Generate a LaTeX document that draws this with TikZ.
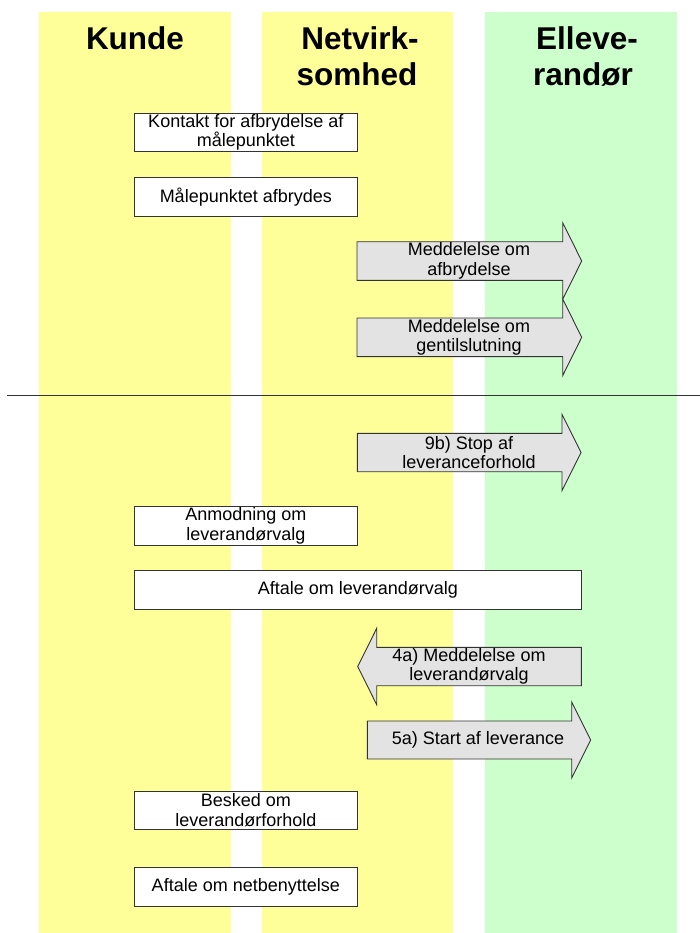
\documentclass[tikz,border=0pt]{standalone}
\usepackage{fontspec}
\setmainfont{Liberation Sans}
\definecolor{laneyellow}{HTML}{FFFF99}
\definecolor{lanegreen}{HTML}{CCFFCC}
\definecolor{arrowgray}{HTML}{E3E3E3}
\definecolor{edgegray}{HTML}{333333}
\tikzset{
  header/.style={font=\fontsize{31.5}{36}\selectfont\bfseries, align=center, text=black},
  stepbox/.style={draw=edgegray, line width=0.9pt, fill=white, inner sep=0pt,
    font=\fontsize{18}{19.5}\selectfont, align=center, text=black},
  msgarrow/.style={draw=edgegray, line width=0.9pt, fill=arrowgray},
  msgtext/.style={font=\fontsize{18}{19.5}\selectfont, align=center, text=black},
}
\begin{document}
\begin{tikzpicture}[x=1pt,y=-1pt]
\useasboundingbox (0,0) rectangle (700,933);
% lanes
\fill[laneyellow] (39,12) rectangle (231,933);
\fill[laneyellow] (262,12) rectangle (453,933);
\fill[lanegreen] (485,12) rectangle (677,933);
% headers
\node[header, anchor=base] (hk) at (135,50) {Kunde};
\node[header, anchor=base] (hn1) at (360,50) {Netvirk-};
\node[header, anchor=base] (hn2) at (357,86) {somhed};
\node[header, anchor=base] (he1) at (587,50) {Elleve-};
\node[header, anchor=base] (he2) at (583,86) {randør};
% boxes
\node[stepbox, minimum width=223.5pt, minimum height=38.5pt] (b1) at (245.8,132.5) {Kontakt for afbrydelse af\\målepunktet};
\node[stepbox, minimum width=223.5pt, minimum height=38.5pt] (b2) at (245.8,197) {Målepunktet afbrydes};
% arrows to supplier
\draw[msgarrow] (357,241.7) -- (562.7,241.7) -- (562.7,222.7) -- (581.7,261) -- (562.7,299.3) -- (562.7,280.3) -- (357,280.3) -- cycle;
\node[msgtext] (a1) at (469,261) {Meddelelse om\\afbrydelse};
\draw[msgarrow] (357,318) -- (562.7,318) -- (562.7,299) -- (581.7,337.3) -- (562.7,375.6) -- (562.7,356.6) -- (357,356.6) -- cycle;
\node[msgtext] (a2) at (469,337.3) {Meddelelse om\\gentilslutning};
% separator
\coordinate (sepL) at (7,395);
\coordinate (sepR) at (700,395);
\draw[edgegray, line width=1pt] (sepL) -- (sepR);
% lower part
\draw[msgarrow] (357.3,433.3) -- (562,433.3) -- (562,414.3) -- (581,452.5) -- (562,490.7) -- (562,471.7) -- (357.3,471.7) -- cycle;
\node[msgtext] (a3) at (469,452.5) {9b) Stop af\\leveranceforhold};
\node[stepbox, minimum width=223.5pt, minimum height=38.5pt] (b3) at (245.8,525.8) {Anmodning om\\leverandørvalg};
\node[stepbox, minimum width=447.5pt, minimum height=38.5pt] (b4) at (357.8,590) {Aftale om leverandørvalg};
\draw[msgarrow] (581.3,647.3) -- (376.7,647.3) -- (376.7,628.3) -- (357.7,666.5) -- (376.7,704.7) -- (376.7,685.7) -- (581.3,685.7) -- cycle;
\node[msgtext] (a4) at (469,666.5) {4a) Meddelelse om\\leverandørvalg};
\draw[msgarrow] (367.3,721) -- (571.7,721) -- (571.7,702) -- (590.7,740) -- (571.7,778) -- (571.7,759) -- (367.3,759) -- cycle;
\node[msgtext] (a5) at (478,740) {5a) Start af leverance};
\node[stepbox, minimum width=223.5pt, minimum height=38.5pt] (b5) at (245.8,810.2) {Besked om\\leverandørforhold};
\node[stepbox, minimum width=223.5pt, minimum height=38.5pt] (b6) at (245.8,886.9) {Aftale om netbenyttelse};
\end{tikzpicture}
\end{document}
